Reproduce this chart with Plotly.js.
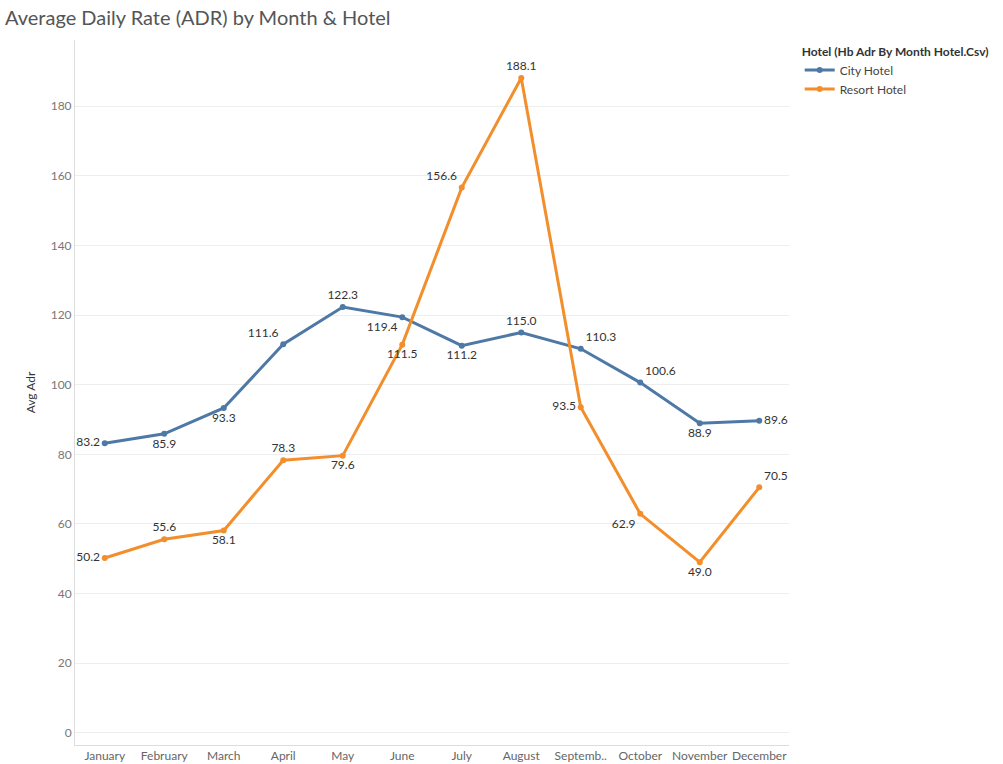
<!DOCTYPE html>
<html>
<head>
<meta charset="utf-8">
<script src="https://cdn.plot.ly/plotly-3.0.1.min.js"></script>
<style>html,body{margin:0;padding:0;background:#fff}#chart{width:1003px;height:764px}</style>
</head>
<body>
<div id="chart"></div>
<script>
// Tableau-style line chart: ADR by month for two hotels.
const MONTHS = ["January", "February", "March", "April", "May", "June", "July", "August", "Septemb..", "October", "November", "December"];
const CITY_ADR = [83.2, 85.9, 93.3, 111.6, 122.3, 119.4, 111.2, 115.0, 110.3, 100.6, 88.9, 89.6];
const RESORT_ADR = [50.2, 55.6, 58.1, 78.3, 79.6, 111.5, 156.6, 188.1, 93.5, 62.9, 49.0, 70.5];

const CITY = "#4e79a7";
const RESORT = "#f28e2b";
const FONT = "Lato, 'Open Sans', sans-serif";

const cityPos = ["middle left", "bottom center", "bottom center", "top left", "top center", "bottom left",
  "bottom center", "top center", "top right", "top right", "bottom center", "middle right"];
const resortPos = ["middle left", "top center", "bottom center", "top center", "bottom center", "bottom center",
  "top left", "top center", "middle left", "bottom left", "bottom center", "top right"];

function series(name, y, color, pos) {
  return {
    x: MONTHS, y, name, type: "scatter", mode: "lines+markers+text",
    line: { color, width: 3 }, marker: { color, size: 6 },
    text: y.map((v) => v.toFixed(1)), textposition: pos,
    textfont: { color: "#333", size: 12, family: FONT },
    hovertemplate: name + " %{x}: %{y:.1f}<extra></extra>",
    cliponaxis: false,
  };
}

const layout = {
  width: 1003, height: 764,
  paper_bgcolor: "#fff", plot_bgcolor: "#fff",
  font: { family: FONT, color: "#666", size: 12 },
  margin: { t: 40, l: 75, r: 208, b: 19 },
  title: { text: "Average Daily Rate (ADR) by Month & Hotel", x: 0.005, xanchor: "left", y: 0.985, yanchor: "top",
    font: { size: 20, color: "#555", family: FONT } },
  xaxis: { type: "category", showgrid: false, showline: true, linecolor: "#ddd", ticks: "",
    tickfont: { size: 12, color: "#666" }, range: [-0.5, 11.5] },
  yaxis: { title: { text: "Avg Adr", font: { size: 12, color: "#333" }, standoff: 12 },
    range: [-3.5, 199], dtick: 20, gridcolor: "#eee", zeroline: false,
    showline: true, linecolor: "#ddd", tickfont: { size: 12, color: "#777" } },
  legend: { x: 1.015, xanchor: "left", y: 1.0, yanchor: "top",
    title: { text: "<b>Hotel (Hb Adr By Month Hotel.Csv)</b>", font: { size: 12, color: "#333" } },
    font: { size: 12, color: "#444" }, tracegroupgap: 2 },
};

Plotly.newPlot("chart", [series("City Hotel", CITY_ADR, CITY, cityPos), series("Resort Hotel", RESORT_ADR, RESORT, resortPos)],
  layout, { displayModeBar: false });
</script>
</body>
</html>
